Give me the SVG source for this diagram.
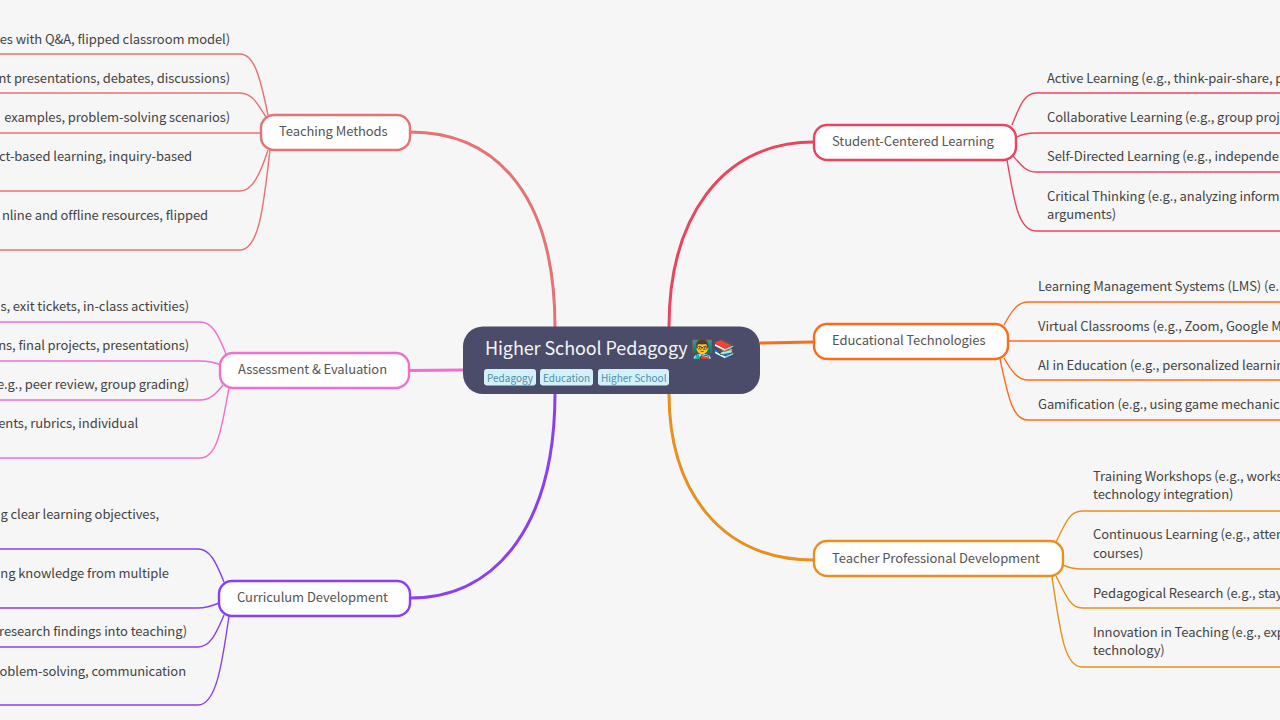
<svg xmlns="http://www.w3.org/2000/svg" width="1280" height="720" viewBox="0 0 1280 720">
<style>
text{font-family:"Noto Sans CJK SC","Noto Sans",sans-serif;fill:#444}
.leaf{font-size:13px;letter-spacing:-.08px}
.end{text-anchor:end}
.main{font-size:13px;letter-spacing:-.08px;fill:#555}
.box{fill:#fff;stroke-width:2.4}
.l{fill:none;stroke-width:1.4}
.m{fill:none;stroke-width:3}
.tag{fill:#d4f1f9;stroke:#d4f1f9}
.tagt{font-size:10px;fill:#4a8fa8}
.red{stroke:#e57373}.pink{stroke:#f06fd0}.pur{stroke:#8a3ff0}.ros{stroke:#e94560}.ora{stroke:#ff6b1a}.amb{stroke:#e6901f}
</style>
<rect width="1280" height="720" fill="#f6f6f6"/>
<g id="connectors">
<path class="m red" d="M410 132C500 132 555 200 555 327"/>
<path class="m pink" d="M463 370L409 370.500"/>
<path class="m pur" d="M555 393C555 520 500 598 410 598"/>
<path class="m ros" d="M669 327C669 220 720 142 814 142"/>
<path class="m ora" d="M760 343L814 342"/>
<path class="m amb" d="M669 393C669 490 720 560 814 560"/>
<path class="l red" d="M0 54H240C254 54 260 76 268 115"/>
<path class="l red" d="M0 93H240C252 93 258 104 266 117"/>
<path class="l red" d="M0 133H261"/>
<path class="l red" d="M0 191H240C252 191 260 175 268 150"/>
<path class="l red" d="M0 250H240C260 250 264 200 270 150"/>
<path class="l pink" d="M0 322H200C212 322 218 334 226 354"/>
<path class="l pink" d="M0 361H200C208 361 214 362 221 365"/>
<path class="l pink" d="M0 400H200C210 400 216 394 223 385"/>
<path class="l pink" d="M0 458H200C218 458 222 425 229 388"/>
<path class="l pur" d="M0 549H198C210 549 216 562 224 582"/>
<path class="l pur" d="M0 608H198C206 608 212 606 219 603"/>
<path class="l pur" d="M0 647H198C210 647 216 634 224 615"/>
<path class="l pur" d="M0 705H198C216 705 222 665 229 616"/>
<path class="l ros" d="M1012 125C1019 108 1024 93 1036 93H1280"/>
<path class="l ros" d="M1017 137C1022 134 1028 133 1036 133H1280"/>
<path class="l ros" d="M1013 156C1021 165 1026 172 1036 172H1280"/>
<path class="l ros" d="M1007 160C1014 200 1018 231 1036 231H1280"/>
<path class="l ora" d="M1004 325C1012 310 1018 302 1028 302H1280"/>
<path class="l ora" d="M1008 341H1280"/>
<path class="l ora" d="M1004 358C1012 372 1018 380 1028 380H1280"/>
<path class="l ora" d="M1000 359C1008 395 1012 420 1028 420H1280"/>
<path class="l amb" d="M1056 542C1066 522 1070 511 1082 511H1280"/>
<path class="l amb" d="M1063 565C1069 568 1075 569 1082 569H1280"/>
<path class="l amb" d="M1056 576C1066 595 1070 608 1082 608H1280"/>
<path class="l amb" d="M1052 577C1060 630 1064 667 1082 667H1280"/>
</g>
<g id="root">
<rect x="463" y="326.500" width="297" height="67.500" rx="20" fill="#4a4c69"/>
<text x="485" y="354.500" font-size="18" letter-spacing="-.1" style="fill:#f5f5f5">Higher School Pedagogy 👨‍🏫📚</text>
<rect class="tag" x="484.500" y="369.500" width="51" height="15.500" rx="2"/><text class="tagt" x="487" y="381.500">Pedagogy</text>
<rect class="tag" x="540.500" y="369.500" width="52" height="15.500" rx="2"/><text class="tagt" x="543" y="381.500">Education</text>
<rect class="tag" x="598.500" y="369.500" width="70" height="15.500" rx="2"/><text class="tagt" x="601" y="381.500">Higher School</text>
</g>
<g id="n-teaching"><rect class="box red" x="261" y="115" width="149" height="35" rx="13"/><text class="main" x="279" y="136">Teaching Methods</text></g>
<g id="n-assessment"><rect class="box pink" x="220" y="353" width="189" height="35" rx="13"/><text class="main" x="238" y="374">Assessment &amp; Evaluation</text></g>
<g id="n-curriculum"><rect class="box pur" x="219" y="581" width="191" height="35" rx="13"/><text class="main" x="237" y="601.500">Curriculum Development</text></g>
<g id="n-student"><rect class="box ros" x="814" y="125" width="202" height="35" rx="13"/><text class="main" x="832" y="146">Student-Centered Learning</text></g>
<g id="n-edtech"><rect class="box ora" x="814" y="324" width="194" height="35" rx="13"/><text class="main" x="832" y="345">Educational Technologies</text></g>
<g id="n-teacher"><rect class="box amb" x="814" y="541" width="249" height="35" rx="13"/><text class="main" x="832" y="563">Teacher Professional Development</text></g>
<g id="leaves-left">
<text class="leaf end" x="230" y="43.500">es with Q&amp;A, flipped classroom model)</text>
<text class="leaf end" x="230" y="82.500">nt presentations, debates, discussions)</text>
<text class="leaf end" x="230" y="121.500">examples, problem-solving scenarios)</text>
<text class="leaf end" x="192" y="160.500">ct-based learning, inquiry-based</text>
<text class="leaf end" x="208" y="219.500">nline and offline resources, flipped</text>
<text class="leaf end" x="189" y="310.500">s, exit tickets, in-class activities)</text>
<text class="leaf end" x="189" y="349.500">ns, final projects, presentations)</text>
<text class="leaf end" x="189" y="388.500">e.g., peer review, group grading)</text>
<text class="leaf end" x="138" y="427.500">ents, rubrics, individual</text>
<text class="leaf end" x="159" y="518.500">g clear learning objectives,</text>
<text class="leaf end" x="169" y="577.500">ng knowledge from multiple</text>
<text class="leaf end" x="187" y="636">research findings into teaching)</text>
<text class="leaf end" x="186" y="675.500">oblem-solving, communication</text>
</g>
<g id="leaves-right">
<text class="leaf" x="1047" y="82.500">Active Learning (e.g., think-pair-share, p</text>
<text class="leaf" x="1047" y="121.500">Collaborative Learning (e.g., group proj</text>
<text class="leaf" x="1047" y="160.500">Self-Directed Learning (e.g., independe</text>
<text class="leaf" x="1047" y="200.500">Critical Thinking (e.g., analyzing inform</text>
<text class="leaf" x="1047" y="218.500">arguments)</text>
<text class="leaf" x="1038" y="291">Learning Management Systems (LMS) (e.</text>
<text class="leaf" x="1038" y="330.500">Virtual Classrooms (e.g., Zoom, Google M</text>
<text class="leaf" x="1038" y="369.500">AI in Education (e.g., personalized learnin</text>
<text class="leaf" x="1038" y="408.500">Gamification (e.g., using game mechanic</text>
<text class="leaf" x="1093" y="480.500">Training Workshops (e.g., works</text>
<text class="leaf" x="1093" y="498.500">technology integration)</text>
<text class="leaf" x="1093" y="539">Continuous Learning (e.g., atten</text>
<text class="leaf" x="1093" y="557.500">courses)</text>
<text class="leaf" x="1093" y="597.500">Pedagogical Research (e.g., stay</text>
<text class="leaf" x="1093" y="636.500">Innovation in Teaching (e.g., exp</text>
<text class="leaf" x="1093" y="654.500">technology)</text>
</g>
</svg>
